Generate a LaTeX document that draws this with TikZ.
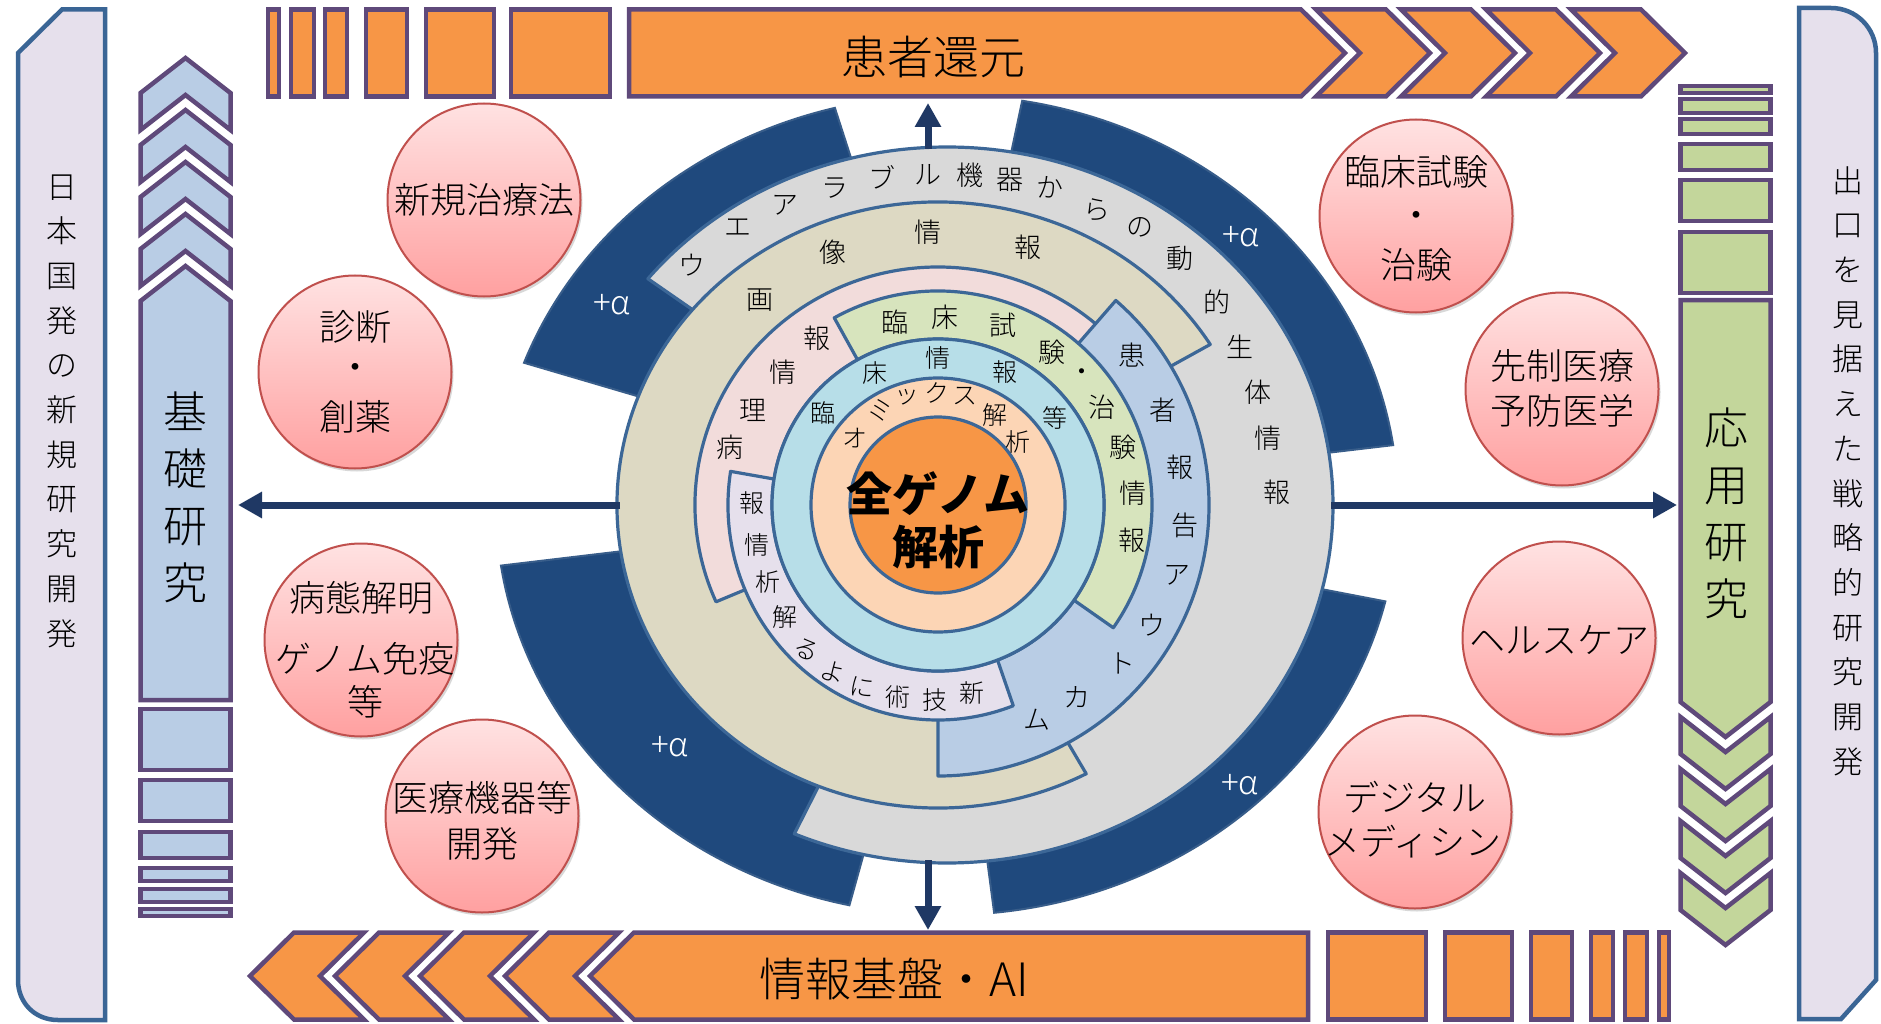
\documentclass[tikz,border=0pt]{standalone}
\usepackage{fontspec}
\newfontfamily\jpr{Noto Sans CJK JP}
\IfFontExistsTF{Noto Sans CJK JP Light}{\newfontfamily\jp{Noto Sans CJK JP Light}}{\newfontfamily\jp{Noto Sans CJK JP}}
\usetikzlibrary{arrows.meta,shadows}
\definecolor{orng}{HTML}{F79646}
\definecolor{purp}{HTML}{5F497A}
\definecolor{bcol}{HTML}{B9CDE5}
\definecolor{gcol}{HTML}{C3D69B}
\definecolor{lav}{HTML}{E6E0EC}
\definecolor{pbord}{HTML}{3A6595}
\definecolor{dkb}{HTML}{1F497D}
\definecolor{dkbl}{HTML}{385D8A}
\definecolor{ringln}{HTML}{3C6797}
\definecolor{rgray}{HTML}{D9D9D9}
\definecolor{rtan}{HTML}{DDD9C3}
\definecolor{rpink}{HTML}{F2DCDB}
\definecolor{rblue}{HTML}{B9CDE5}
\definecolor{rgreen}{HTML}{D7E4BD}
\definecolor{rlav}{HTML}{E6E0EC}
\definecolor{rlb}{HTML}{B7DEE8}
\definecolor{rpeach}{HTML}{FCD5B5}
\definecolor{arrc}{HTML}{1F3864}
\definecolor{bubtop}{HTML}{FFE2E2}
\definecolor{bubbot}{HTML}{FFA0A0}
\definecolor{bubline}{HTML}{C0504D}
% annular (elliptical) sector: style, start, end, outer rx, outer ry, inner rx, inner ry
\newcommand\annsec[7]{\path[#1] (#2:#4 and #5) arc[start angle=#2,end angle=#3,x radius=#4,y radius=#5] -- (#3:#6 and #7) arc[start angle=#3,end angle=#2,x radius=#6,y radius=#7] -- cycle;}
\tikzset{
  band/.style={draw=purp,line width=4.5,fill=orng,line join=miter},
  bluecol/.style={draw=purp,line width=4.5,fill=bcol,line join=miter},
  greencol/.style={draw=purp,line width=4.5,fill=gcol,line join=miter},
  panel/.style={draw=pbord,line width=4.5,fill=lav},
  ring/.style={draw=ringln,line width=3.2,line join=round},
  dark/.style={fill=dkb,draw=dkbl,line width=2},
  bubble/.style={circle,draw=bubline,line width=2,minimum size=193,inner sep=0pt,
    top color=bubtop,bottom color=bubbot,
    drop shadow={opacity=0.3,shadow xshift=2pt,shadow yshift=-3pt}},
  btext/.style={font=\jp\fontsize{36}{40}\selectfont,inner sep=0pt},
  rt/.style={font=\jp\fontsize{27}{30}\selectfont,inner sep=0pt},
  rts/.style={font=\jp\fontsize{25}{28}\selectfont,inner sep=0pt},
  pa/.style={font=\jp\fontsize{33}{36}\selectfont,inner sep=0pt,text=white},
  vtext/.style={font=\jp\fontsize{31}{44.7}\selectfont,align=center,inner sep=0pt},
  coltext/.style={font=\jp\fontsize{44}{57}\selectfont,align=center,inner sep=0pt},
  bandtext/.style={font=\jp\fontsize{46}{50}\selectfont,inner sep=0pt},
  coretext/.style={font=\jpr\bfseries\fontsize{46}{50}\selectfont,inner sep=0pt},
  arr/.style={draw=arrc,line width=7,-{Triangle[width=25pt,length=24pt]}}
}
\begin{document}
\begin{tikzpicture}[x=1pt,y=-1pt]
\useasboundingbox (0,0) rectangle (1881,1024);
\fill[white] (0,0) rectangle (1881,1024);

% ---------- side panels ----------
\path[panel] (18,53) -- (62,9.5) -- (105,9.5) -- (105,1020) -- (58,1020)
  .. controls (35,1020) and (18,1003) .. (18,980) -- cycle;
\path[panel] (1799,8) -- (1831,8) .. controls (1856,8) and (1876,28) .. (1876,53)
  -- (1876,980) -- (1841,1019) -- (1799,1019) -- cycle;
\node[vtext] (lefttxt) at (62,411) {日\\本\\国\\発\\の\\新\\規\\研\\究\\開\\発};
\node[vtext] (righttxt) at (1848,471) {出\\口\\を\\見\\据\\え\\た\\戦\\略\\的\\研\\究\\開\\発};

% ---------- top band ----------
\foreach \a/\b in {268/279,291/314,325/347,366/407,426/494,511/610}
  \path[band] (\a,9.5) rectangle (\b,96.5);
\path[band] (629,9.5) -- (1301,9.5) -- (1345,53) -- (1301,96.5) -- (629,96.5) -- cycle;
\foreach \t in {1430,1515,1600,1685}
  \path[band] (\t-114,9.5) -- (\t-44,9.5) -- (\t,53) -- (\t-44,96.5) -- (\t-114,96.5) -- (\t-70,53) -- cycle;
\node[bandtext] (toptxt) at (933,57) {患者還元};

% ---------- bottom band ----------
\foreach \t in {250,335,420,505}
  \path[band] (\t,976) -- (\t+44,932.5) -- (\t+114,932.5) -- (\t+70,976) -- (\t+114,1019.5) -- (\t+44,1019.5) -- cycle;
\path[band] (590,976) -- (634,932.5) -- (1308,932.5) -- (1308,1019.5) -- (634,1019.5) -- cycle;
\foreach \a/\b in {1328/1426,1445/1512,1531/1572,1591/1613,1625/1647,1659/1669}
  \path[band] (\a,932.5) rectangle (\b,1019.5);
\node[bandtext] (bottxt) at (894,979) {情報基盤・AI};

% ---------- left blue column ----------
\foreach \t in {58,110,162,214}
  \path[bluecol] (185.5,\t) -- (230.5,\t+35) -- (230.5,\t+72) -- (185.5,\t+37) -- (140.5,\t+72) -- (140.5,\t+35) -- cycle;
\path[bluecol] (185.5,266) -- (230.5,301) -- (230.5,700) -- (140.5,700) -- (140.5,301) -- cycle;
\foreach \a/\b in {709/770,780/821,832/858,868/881,889/902,909/916}
  \path[bluecol] (140.5,\a) rectangle (230.5,\b);
\node[coltext] (kiso) at (185,497) {基\\礎\\研\\究};

% ---------- right green column ----------
\foreach \a/\b in {86/93,99/113,119/134,144/170,180/221,232/293}
  \path[greencol] (1680.5,\a) rectangle (1770.5,\b);
\path[greencol] (1680.5,300) -- (1770.5,300) -- (1770.5,702) -- (1725.5,737) -- (1680.5,702) -- cycle;
\foreach \t in {789,841,893,945}
  \path[greencol] (1680.5,\t-72) -- (1725.5,\t-37) -- (1770.5,\t-72) -- (1770.5,\t-35) -- (1725.5,\t) -- (1680.5,\t-35) -- cycle;
\node[coltext] (ouyou) at (1726,513) {応\\用\\研\\究};

% ---------- central rings ----------
\begin{scope}[shift={(938,505)},y=1pt]
  \begin{scope}[xshift=9pt]
    \annsec{dark}{104.4}{159.7}{451}{410}{250}{250}
    \annsec{dark}{80.4}{8.4}{451}{410}{250}{250}
    \annsec{dark}{188.5}{257.5}{451}{410}{250}{250}
    \annsec{dark}{-13.6}{-84}{451}{410}{250}{250}
    \annsec{ring,fill=rgray}{140.8}{-113.3}{386}{358}{200}{200}
  \end{scope}
  \annsec{ring,fill=rtan}{32}{297.5}{321}{303}{166}{166}
  \annsec{ring,fill=rpink}{204}{40}{243}{238}{166}{166}
  \annsec{ring,fill=rblue}{49}{-90}{271}{271}{166}{166}
  \annsec{ring,fill=rgreen}{119}{-35}{214}{214}{166}{166}
  \annsec{ring,fill=rlav}{171}{291}{210}{215}{166}{166}
  \draw[ring,fill=rlb] (0,0) circle[radius=166];
  \draw[ring,fill=rpeach] (0,0) circle[radius=127];
  \draw[ring,fill=orng] (0,0) circle[radius=88];
\end{scope}

% ring texts
\foreach \c/\x/\y [count=\i] in {ウ/692/265,エ/738/228,ア/785/205,ラ/835/188,ブ/882/177,ル/928/175,機/970/175,器/1010/180,か/1050/187,ら/1097/210,の/1140/227,動/1180/258,的/1217/302,生/1240/347,体/1258/392,情/1268/438,報/1277/492}
  \node[rt] (gr\i) at (\x,\y) {\c};
\foreach \c/\x/\y [count=\i] in {画/760/300,像/833/252,情/928/232,報/1028/247}
  \node[rt] (tn\i) at (\x,\y) {\c};
\foreach \c/\x/\y [count=\i] in {報/817/338,情/783/372,理/753/410,病/730/447}
  \node[rt] (pk\i) at (\x,\y) {\c};
\foreach \c/\x/\y [count=\i] in {臨/895/322,床/945/317,試/1003/325,験/1052/352,・/1082/375,治/1102/407,験/1123/447,情/1133/493,報/1132/540}
  \node[rt] (gn\i) at (\x,\y) {\c};
\foreach \c/\x/\y [count=\i] in {患/1132/355,者/1163/410,報/1180/467,告/1185/525,ア/1177/575,ウ/1152/625,ト/1122/663,カ/1077/697,ム/1037/720}
  \node[rt] (bl\i) at (\x,\y) {\c};
\foreach \c/\x/\y [count=\i] in {臨/823/413,床/875/373,情/938/358,報/1005/372,等/1055/418}
  \node[rts] (lb\i) at (\x,\y) {\c};
\foreach \c/\x/\y/\r [count=\i] in {オ/855/438/0,ミ/880/410/-20,ッ/907/397/0,ク/937/393/0,ス/965/396/0,解/995/415/0,析/1018/442/0}
  \node[rts,rotate=\r] (pc\i) at (\x,\y) {\c};
\foreach \c/\x/\y/\r [count=\i] in {報/752/503/0,情/757/545/0,析/768/582/0,解/785/617/0,る/807/650/-25,よ/833/672/-15,に/862/687/-8,術/898/697/0,技/935/700/0,新/972/693/0}
  \node[rts,rotate=\r] (lv\i) at (\x,\y) {\c};
\node[coretext] (core1) at (938,494) {全ゲノム};
\node[coretext] (core2) at (938,547) {解析};

% +alpha labels
\node[pa] (pa1) at (612,305) {+α};
\node[pa] (pa2) at (1241,237) {+α};
\node[pa] (pa3) at (670,747) {+α};
\node[pa] (pa4) at (1240,785) {+α};

% ---------- arrows ----------
\coordinate (uS) at (928,149); \coordinate (uE) at (928,103);
\coordinate (dS) at (928,860); \coordinate (dE) at (928,930);
\coordinate (lS) at (620,505); \coordinate (lE) at (238,505);
\coordinate (rS) at (1331,505); \coordinate (rE) at (1677,505);
\draw[arr] (uS) -- (uE);
\draw[arr] (dS) -- (dE);
\draw[arr] (lS) -- (lE);
\draw[arr] (rS) -- (rE);

% ---------- bubbles ----------
\node[bubble] (b1) at (484,200) {};
\node[bubble] (b2) at (355,372) {};
\node[bubble] (b3) at (361,640) {};
\node[bubble] (b4) at (482,816) {};
\node[bubble] (b5) at (1416,216) {};
\node[bubble] (b6) at (1562,389) {};
\node[bubble] (b7) at (1559,638) {};
\node[bubble] (b8) at (1415,812) {};
\node[btext] (t1) at (484,200) {新規治療法};
\node[btext] (t2a) at (355,327) {診断};
\node[btext] (t2b) at (355,372) {・};
\node[btext] (t2c) at (355,417) {創薬};
\node[btext] (t3a) at (361,598) {病態解明};
\node[btext] (t3b) at (365,659) {ゲノム免疫};
\node[btext] (t3c) at (365,702) {等};
\node[btext] (t4a) at (482,798) {医療機器等};
\node[btext] (t4b) at (482,844) {開発};
\node[btext] (t5a) at (1416,172) {臨床試験};
\node[btext] (t5b) at (1416,220) {・};
\node[btext] (t5c) at (1416,265) {治験};
\node[btext] (t6a) at (1562,366) {先制医療};
\node[btext] (t6b) at (1562,411) {予防医学};
\node[btext] (t7) at (1559,640) {ヘルスケア};
\node[btext] (t8a) at (1415,797) {デジタル};
\node[btext] (t8b) at (1413,842) {メディシン};
\end{tikzpicture}
\end{document}
